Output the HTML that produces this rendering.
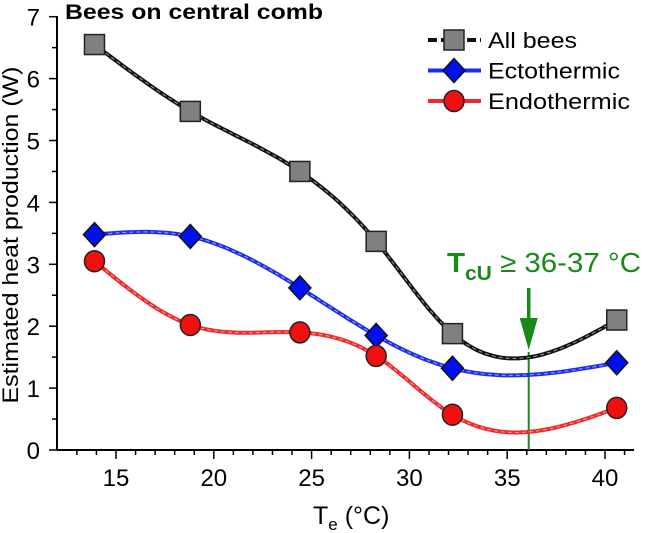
<!DOCTYPE html>
<html><head><meta charset="utf-8"><style>
body{margin:0;background:#fff}
svg{display:block;font-family:"Liberation Sans",sans-serif}
</style></head><body>
<svg id="c" width="646" height="533"></svg>
<script>
const xs=[13.9,18.8,24.4,28.3,32.2,40.6];
const allBees=[6.55,5.47,4.5,3.37,1.88,2.1];
const ecto=[3.48,3.45,2.62,1.85,1.32,1.41];
const endo=[3.05,2.02,1.9,1.52,0.57,0.68];
const xTicks=[15,20,25,30,35,40];
const yTicks=[0,1,2,3,4,5,6,7];
const tcu=36.1;
const NS="http://www.w3.org/2000/svg";
const svg=document.getElementById('c');
const X0=57,X1=634,Y0=450;
const sx=v=>116+(v-15)*19.56;
const sy=v=>Y0-v*61.9;
function mk(t,a,p){const e=document.createElementNS(NS,t);for(const k in a)e.setAttribute(k,a[k]);(p||svg).appendChild(e);return e;}
function spline(x,y){const n=x.length,h=[],al=[0],l=[1],mu=[0],z=[0],c=new Array(n).fill(0),b=[],d=[];
for(let i=0;i<n-1;i++)h.push(x[i+1]-x[i]);
for(let i=1;i<n-1;i++)al.push(3/h[i]*(y[i+1]-y[i])-3/h[i-1]*(y[i]-y[i-1]));
for(let i=1;i<n-1;i++){l[i]=2*(x[i+1]-x[i-1])-h[i-1]*mu[i-1];mu[i]=h[i]/l[i];z[i]=(al[i]-h[i-1]*z[i-1])/l[i];}
for(let j=n-2;j>=0;j--){c[j]=(j>0?z[j]-mu[j]*c[j+1]:0);b[j]=(y[j+1]-y[j])/h[j]-h[j]*(c[j+1]+2*c[j])/3;d[j]=(c[j+1]-c[j])/(3*h[j]);}
let p='';for(let j=0;j<n-1;j++)for(let k=0;k<=20;k++){const t=h[j]*k/20,v=y[j]+b[j]*t+c[j]*t*t+d[j]*t*t*t;p+=(p?'L':'M')+sx(x[j]+t).toFixed(1)+','+sy(v).toFixed(1);}return p;}
let a=mk('line',{x1:X0,y1:Y0,x2:X1,y2:Y0,stroke:'#000','stroke-width':2});
a=mk('line',{x1:X0,y1:Y0,x2:X0,y2:16,stroke:'#000','stroke-width':2});
for(let v=13;v<=41;v++){mk('line',{x1:sx(v),y1:Y0,x2:sx(v),y2:Y0+(v%5===0?9:5),stroke:'#000','stroke-width':1.5});}
xTicks.forEach(v=>{const t=mk('text',{x:sx(v),y:Y0+36,'font-size':24,'text-anchor':'middle'});t.textContent=v;});
for(let v=0;v<=7;v+=0.5){mk('line',{x1:X0,y1:sy(v),x2:X0-(v%1===0?8:5),y2:sy(v),stroke:'#000','stroke-width':1.5});}
yTicks.forEach(v=>{const t=mk('text',{x:40,y:sy(v)+9,'font-size':24,'text-anchor':'end'});t.textContent=v;});
let t=mk('text',{x:0,y:0,'font-size':22,'text-anchor':'middle',textLength:337,lengthAdjust:'spacingAndGlyphs',transform:'translate(18,235) rotate(-90)'});t.textContent='Estimated heat production (W)';
t=mk('text',{x:313,y:524,'font-size':25,'text-anchor':'start'});t.innerHTML='T<tspan font-size="17" dy="6">e</tspan><tspan dy="-6"> (°C)</tspan>';
t=mk('text',{x:65,y:19,'font-size':21,'font-weight':'bold',textLength:258,lengthAdjust:'spacingAndGlyphs'});t.textContent='Bees on central comb';
let g=mk('line',{x1:sx(tcu),y1:352,x2:sx(tcu),y2:Y0,stroke:'#188a18','stroke-width':2});
g=mk('line',{x1:sx(tcu),y1:288,x2:sx(tcu),y2:330,stroke:'#188a18','stroke-width':3.5});
mk('path',{d:`M${sx(tcu)-9},318L${sx(tcu)},350L${sx(tcu)+9},318Z`,fill:'#188a18'});
t=mk('text',{x:447,y:272,'font-size':28,fill:'#188a18',textLength:194,lengthAdjust:'spacingAndGlyphs'});t.innerHTML='<tspan font-weight="bold">T<tspan font-size="20" dy="8">cU</tspan></tspan><tspan dy="-8"> ≥ 36-37 °C</tspan>';
function series(ys,col,name,shape){
 const p=spline(xs,ys);
 let l=mk('path',{d:p,fill:'none',stroke:col,'stroke-width':4});
 mk('path',{d:p,fill:'none',stroke:'#ddd','stroke-width':1,'stroke-dasharray':'4 3',opacity:0.7});
 xs.forEach((x,i)=>{const cx=sx(x),cy=sy(ys[i]);let m;
  if(shape==='sq')m=mk('rect',{x:cx-10,y:cy-10,width:20,height:20,fill:'#808080',stroke:'#222','stroke-width':1.5});
  else if(shape==='di')m=mk('path',{d:`M${cx},${cy-12}L${cx+11},${cy}L${cx},${cy+12}L${cx-11},${cy}Z`,fill:'#0010ee',stroke:'#111','stroke-width':1.5});
  else m=mk('ellipse',{cx:cx,cy:cy,rx:10,ry:10.5,fill:'#f01010',stroke:'#222','stroke-width':1.5});
  });
}
series(allBees,'#111','all-bees','sq');
series(ecto,'#1a2cf0','ectothermic','di');
series(endo,'#f02828','endothermic','ci');
const L=[['All bees','#111','sq',89],['Ectothermic','#1a2cf0','di',132],['Endothermic','#f02828','ci',142]];
L.forEach((e,i)=>{const y=40+i*30.5,cx=454;
 const gr=mk('g',{});
 mk('line',{x1:428,y1:y,x2:481,y2:y,stroke:e[1],'stroke-width':4,'stroke-dasharray':i===0?'9 4':'none'},gr);
 if(e[2]==='sq')mk('rect',{x:cx-10,y:y-10,width:20,height:20,fill:'#808080',stroke:'#222','stroke-width':1.5},gr);
 else if(e[2]==='di')mk('path',{d:`M${cx},${y-12}L${cx+11},${y}L${cx},${y+12}L${cx-11},${y}Z`,fill:'#0010ee',stroke:'#111','stroke-width':1.5},gr);
 else mk('ellipse',{cx:cx,cy:y,rx:10,ry:10.5,fill:'#f01010',stroke:'#222','stroke-width':1.5},gr);
 const tx=mk('text',{x:488,y:y+8,'font-size':22,textLength:e[3],lengthAdjust:'spacingAndGlyphs'},gr);tx.textContent=e[0];});
</script>
</body></html>
